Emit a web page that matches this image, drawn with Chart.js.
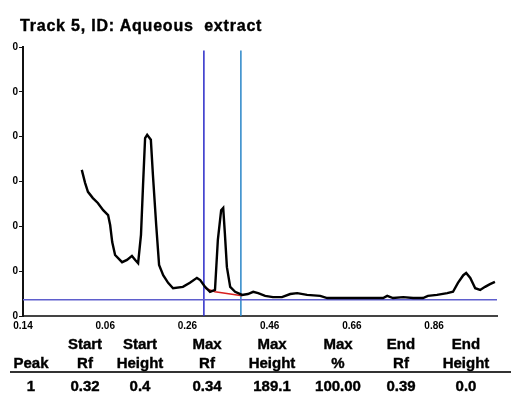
<!DOCTYPE html>
<html><head><meta charset="utf-8">
<script src="https://cdn.jsdelivr.net/npm/chart.js@4/dist/chart.umd.min.js"></script>
<style>
html,body{margin:0;padding:0;background:#fff;width:511px;height:397px;overflow:hidden;}
#wrap{position:relative;width:511px;height:397px;}
canvas{position:absolute;left:0;top:0;}
.t{position:absolute;font-family:"Liberation Sans",Arial,sans-serif;font-weight:bold;color:#000;white-space:pre;line-height:1;-webkit-text-stroke:0.4px #000;}
#title{left:20px;top:18px;font-size:16px;letter-spacing:0.8px;}
.c{transform:translate(-50%,-50%);font-size:15px;}
#rule{position:absolute;left:10px;top:371px;width:501px;height:0;border-top:2px solid #333;}
</style></head><body>
<div id="wrap"><canvas id="c" width="511" height="397"></canvas>
<div class="t" id="title"></div>
<div id="rule"></div>
</div>
<script>
// ---- data ----
const chartTitle = "Track 5, ID: Aqueous  extract";
const rfValues = [0.003,0.011,0.018,0.030,0.042,0.055,0.067,0.072,0.077,0.084,0.101,0.113,0.125,0.133,0.140,0.147,0.152,0.157,0.162,0.171,0.176,0.184,0.191,0.201,0.213,0.225,0.249,0.266,0.283,0.291,0.303,0.315,0.327,0.334,0.342,0.347,0.351,0.356,0.364,0.376,0.393,0.407,0.420,0.432,0.449,0.468,0.490,0.510,0.527,0.551,0.583,0.600,0.631,0.680,0.736,0.746,0.760,0.785,0.809,0.833,0.845,0.867,0.892,0.906,0.918,0.931,0.938,0.948,0.960,0.972,0.984,0.996,1.008];
const auValues = [326,297,277,263,252,236,225,203,165,136,120,125,134,125,118,181,292,397,404,393,315,203,114,91,74,62,65,74,85,80,65,54,58,170,236,241,185,109,65,54,47,49,54,51,45,42,42,49,51,47,45,40,40,40,40,45,40,42,40,40,45,47,51,54,74,91,96,85,62,58,65,71,76];
const xTickValues = [-0.14, 0.06, 0.26, 0.46, 0.66, 0.86];
const xTickLabels = ["0.14", "0.06", "0.26", "0.46", "0.66", "0.86"];
const yTickValues = [0, 100, 200, 300, 400, 500, 600];
const yTickLabels = ["0", "0", "0", "0", "0", "0", "0"];
const markerRf = [0.30, 0.39];
const markerTopAU = 592;
const baselineAU = 36;
const peakBaseRf = [0.303, 0.327, 0.393];
const peakBaseAU = [62, 54, 45];
const tableHead1 = ["", "Start", "Start", "Max", "Max", "Max", "End", "End"];
const tableHead2 = ["Peak", "Rf", "Height", "Rf", "Height", "%", "Rf", "Height"];
const tableRow = ["1", "0.32", "0.4", "0.34", "189.1", "100.00", "0.39", "0.0"];

// ---- layout (positions only) ----
const colX = [31, 85, 140, 207, 272, 338, 401, 466];
const rowY = [343, 362, 385];
const xMin = -0.14, xMax = 1.013;

document.getElementById('title').textContent = chartTitle;
const wrap = document.getElementById('wrap');
[tableHead1, tableHead2, tableRow].forEach((row, r) => {
  row.forEach((txt, i) => {
    if (!txt) return;
    const d = document.createElement('div');
    d.className = 't c';
    d.textContent = txt;
    d.style.left = colX[i] + 'px';
    d.style.top = rowY[r] + 'px';
    wrap.appendChild(d);
  });
});

const font = {family: '"Liberation Sans", Arial, sans-serif', weight: 'bold', size: 10};

new Chart(document.getElementById('c'), {
  type: 'line',
  data: {
    datasets: [
      {data: rfValues.map((x, i) => ({x, y: auValues[i]})), borderColor: '#000', borderWidth: 2.4, pointRadius: 0, tension: 0},
      {data: peakBaseRf.map((x, i) => ({x, y: peakBaseAU[i]})), borderColor: '#d82020', borderWidth: 1.5, pointRadius: 0},
      {data: [{x: xMin, y: baselineAU}, {x: xMax, y: baselineAU}], borderColor: 'rgb(95,95,205)', borderWidth: 1.5, pointRadius: 0},
      {data: [{x: markerRf[0], y: 0}, {x: markerRf[0], y: markerTopAU}], borderColor: '#2a2ac8', borderWidth: 1.5, pointRadius: 0},
      {data: [{x: markerRf[1], y: 0}, {x: markerRf[1], y: markerTopAU}], borderColor: '#2a86c8', borderWidth: 1.5, pointRadius: 0}
    ]
  },
  options: {
    responsive: false,
    animation: false,
    devicePixelRatio: 1,
    layout: {padding: {left: 0, right: 14, top: 47, bottom: 0}},
    plugins: {legend: {display: false}, tooltip: {enabled: false}, title: {display: false}},
    scales: {
      x: {
        type: 'linear', min: xMin, max: xMax,
        afterBuildTicks: s => { s.ticks = xTickValues.map(v => ({value: v})); },
        afterFit: s => { s.height = 81; },
        ticks: {autoSkip: false, maxRotation: 0, font, color: '#000', padding: 4,
          callback: (v, i) => xTickLabels[i]},
        grid: {display: true, drawOnChartArea: false, drawTicks: false},
        border: {display: true, color: '#444', width: 2}
      },
      y: {
        min: 0, max: 600,
        afterBuildTicks: s => { s.ticks = yTickValues.map(v => ({value: v})); },
        afterFit: s => { s.width = 23; },
        ticks: {autoSkip: false, font, color: '#000', padding: 1,
          callback: (v, i) => yTickLabels[i]},
        grid: {display: true, drawOnChartArea: false, drawTicks: true, tickLength: 4, color: '#111'},
        border: {display: true, color: '#111', width: 2}
      }
    }
  }
});
</script>
</body></html>
